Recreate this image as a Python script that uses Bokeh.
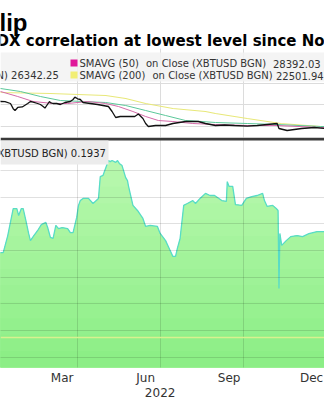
import numpy as np
import pandas as pd
from bokeh.plotting import figure
from bokeh.layouts import column
from bokeh.models import Range1d, FixedTicker, Label, BoxAnnotation, Span, LinearAxis
from bokeh.embed import file_html
from bokeh.resources import INLINE

# ---------------- data ----------------
title_text = "lip"
subtitle_text = "DX correlation at lowest level since No"

legend_row1 = ["SMAVG (50)", "on Close (XBTUSD BGN)", "28392.03"]
legend_row2_left = "N) 26342.25"
legend_row2 = ["SMAVG (200)", "on Close (XBTUSD BGN)", "22501.94"]
corr_legend = "XBTUSD BGN) 0.1937"

price_dates = ["2022-01-03", "2022-01-06", "2022-01-11", "2022-01-17", "2022-01-20", "2022-01-22",
               "2022-01-25", "2022-01-30", "2022-02-05", "2022-02-08", "2022-02-11", "2022-02-16",
               "2022-02-19", "2022-02-22", "2022-02-24", "2022-03-01", "2022-03-02", "2022-03-05",
               "2022-03-09", "2022-03-13", "2022-03-18", "2022-03-24", "2022-03-27", "2022-03-29",
               "2022-04-01", "2022-04-04", "2022-04-07", "2022-04-15", "2022-04-23", "2022-04-29",
               "2022-05-05", "2022-05-09", "2022-05-13", "2022-05-18", "2022-05-27", "2022-06-03",
               "2022-06-07", "2022-06-12", "2022-06-15", "2022-06-18", "2022-06-26", "2022-07-07",
               "2022-07-15", "2022-07-29", "2022-08-12", "2022-08-20", "2022-08-31", "2022-09-10",
               "2022-09-21", "2022-10-05", "2022-10-16", "2022-11-07", "2022-11-09", "2022-11-18",
               "2022-12-04", "2022-12-18", "2022-12-29", "2023-01-04"]
price_values = [44000, 43000, 42800, 41160, 36400, 34700,
                37500, 38000, 41160, 43000, 42500, 41160,
                40240, 38400, 37000, 43000, 42000, 41160,
                41160, 40240, 42080, 43000, 44840, 47000,
                45500, 44840, 42080, 41160, 40240, 39320,
                38400, 33800, 28280, 29200, 29200, 29200,
                31500, 27360, 22760, 20000, 20920, 20920,
                22760, 24600, 24600, 22760, 20920, 21400,
                20920, 20400, 20920, 22760, 18160, 16320,
                18160, 19080, 18160, 18160]

sma50_dates = ["2022-01-03", "2022-01-06", "2022-01-25", "2022-02-11", "2022-03-05", "2022-03-21",
               "2022-04-12", "2022-05-02", "2022-05-16", "2022-06-01", "2022-06-15", "2022-06-29",
               "2022-07-15", "2022-08-06", "2022-08-31", "2022-10-05", "2022-11-07", "2022-12-25",
               "2023-01-04"]
sma50_values = [53000, 52200, 47600, 43000, 41160, 41160,
                43000, 41160, 38400, 33800, 29200, 25520,
                24600, 22760, 21840, 20920, 20920, 19080,
                19080]

sma100_dates = ["2022-01-03", "2022-01-06", "2022-01-28", "2022-02-19", "2022-03-13", "2022-04-07",
                "2022-05-02", "2022-05-24", "2022-06-15", "2022-07-07", "2022-07-29", "2022-08-16",
                "2022-08-31", "2022-10-05", "2022-11-07", "2022-12-25", "2023-01-04"]
sma100_values = [55500, 54960, 52200, 47600, 43920, 43000,
                 42080, 39320, 34720, 30120, 25520, 24600,
                 23680, 22760, 21840, 20000, 20000]

sma200_dates = ["2022-01-03", "2022-01-06", "2022-03-02", "2022-05-02", "2022-05-24", "2022-06-15",
                "2022-07-15", "2022-08-20", "2022-08-31", "2022-10-05", "2022-11-11", "2022-12-25",
                "2023-01-04"]
sma200_values = [51400, 51280, 50360, 48520, 45760, 41160,
                 36560, 33800, 31960, 27360, 22760, 20000,
                 19500]

corr_dates = ["2022-01-01", "2022-01-06", "2022-01-09", "2022-01-14", "2022-01-20", "2022-01-24",
              "2022-01-26", "2022-01-29", "2022-01-31", "2022-02-03", "2022-02-06", "2022-02-08",
              "2022-02-11", "2022-02-16", "2022-02-20", "2022-02-25", "2022-02-27", "2022-03-02",
              "2022-03-05", "2022-03-08", "2022-03-11", "2022-03-15", "2022-03-21", "2022-03-24",
              "2022-03-27", "2022-03-31", "2022-04-02", "2022-04-04", "2022-04-07", "2022-04-13",
              "2022-04-18", "2022-04-24", "2022-04-26", "2022-04-29", "2022-05-05", "2022-05-07",
              "2022-05-09", "2022-05-13", "2022-05-15", "2022-05-17", "2022-05-20", "2022-05-24",
              "2022-05-26", "2022-05-27", "2022-06-01", "2022-06-06", "2022-06-12", "2022-06-15",
              "2022-06-20", "2022-06-28", "2022-07-01", "2022-07-07", "2022-07-12", "2022-07-15",
              "2022-07-18", "2022-07-20", "2022-07-23", "2022-07-27", "2022-07-31", "2022-08-06",
              "2022-08-09", "2022-08-14", "2022-08-20", "2022-08-25", "2022-08-30", "2022-09-07",
              "2022-09-12", "2022-09-13", "2022-09-15", "2022-09-19", "2022-09-22", "2022-09-29",
              "2022-10-04", "2022-10-10", "2022-10-16", "2022-10-22", "2022-10-24", "2022-10-27",
              "2022-11-02", "2022-11-06", "2022-11-08", "2022-11-09", "2022-11-10", "2022-11-12",
              "2022-11-17", "2022-11-22", "2022-11-29", "2022-12-05", "2022-12-12", "2022-12-21",
              "2022-12-29", "2023-01-04"]
corr_values = [0.292, 0.292, 0.292, 0.356, 0.457, 0.457,
               0.431, 0.457, 0.457, 0.412, 0.364, 0.337,
               0.352, 0.375, 0.397, 0.405, 0.386, 0.349,
               0.345, 0.394, 0.382, 0.386, 0.382, 0.367,
               0.367, 0.424, 0.469, 0.487, 0.495, 0.495,
               0.476, 0.495, 0.577, 0.581, 0.637, 0.633,
               0.637, 0.630, 0.637, 0.626, 0.618, 0.573,
               0.562, 0.543, 0.469, 0.450, 0.420, 0.390,
               0.394, 0.390, 0.364, 0.337, 0.300, 0.278,
               0.278, 0.308, 0.345, 0.469, 0.476, 0.487,
               0.476, 0.495, 0.514, 0.506, 0.506, 0.487,
               0.484, 0.558, 0.540, 0.540, 0.472, 0.469,
               0.495, 0.502, 0.506, 0.514, 0.487, 0.465,
               0.469, 0.457, 0.450, 0.158, 0.364, 0.319,
               0.337, 0.352, 0.356, 0.352, 0.363, 0.371,
               0.371, 0.371]

month_tick_dates = ["2022-03-15", "2022-06-15", "2022-09-15", "2022-12-15"]
month_tick_labels = ["Mar", "Jun", "Sep", "Dec"]
year_tick_date = "2022-07-01"
year_tick_label = "2022"
quarter_grid_dates = ["2022-04-01", "2022-07-01", "2022-10-01"]
price_grid = [20000, 40000, 60000]
corr_grid = [-0.1, 0.0, 0.1, 0.2, 0.3, 0.4, 0.5, 0.6]
corr_ref_level = -0.026

x_start = "2022-01-06"
x_span_days = 357.2
price_range = (9880, 91760)
corr_range = (-0.1382, 0.7232)
separator_level = 0.712


def ms(d):
    return pd.Timestamp(d).value // 10**6


W = 324
FONT = "DejaVu Sans"

x0 = pd.Timestamp(x_start)
x_range = Range1d(start=x0, end=x0 + pd.Timedelta(days=x_span_days))

# ---------------- header ----------------
head = figure(width=W, height=48, x_range=Range1d(0, W), y_range=Range1d(48, 0),
              toolbar_location=None, output_backend="svg", min_border=0,
              outline_line_color=None)
head.axis.visible = False
head.grid.visible = False
head.add_layout(Label(x=-1, y=22, text=title_text, text_font="Liberation Sans",
                      text_font_style="bold", text_font_size="24px", text_color="#000000",
                      text_baseline="alphabetic"))
head.add_layout(Label(x=-4, y=40, text=subtitle_text, text_font="DejaVu Sans",
                      text_font_style="bold", text_font_size="15px", text_color="#000000",
                      text_baseline="alphabetic"))

# ---------------- top price panel ----------------
top = figure(width=W, height=89, x_range=x_range, y_range=Range1d(*price_range),
             x_axis_type="datetime", toolbar_location=None, output_backend="svg",
             min_border=0, outline_line_color=None)
top.xaxis.visible = False
top.yaxis.visible = False
top.xgrid.ticker = FixedTicker(ticks=[ms(d) for d in quarter_grid_dates])
top.ygrid.ticker = FixedTicker(ticks=price_grid)
top.grid.grid_line_color = "#dcdcdc"

top.line(pd.to_datetime(sma200_dates), sma200_values, line_color="#e8e87a", line_width=1.2)
top.line(pd.to_datetime(sma100_dates), sma100_values, line_color="#5cc89a", line_width=1.0)
top.line(pd.to_datetime(sma50_dates), sma50_values, line_color="#d46aa8", line_width=1.0)
top.line(pd.to_datetime(price_dates), price_values, line_color="#111111", line_width=1.3)

# legend (screen units relative to frame bottom-left)
top.add_layout(BoxAnnotation(left=0, right=W, bottom=56, top=85, left_units="screen",
                             right_units="screen", bottom_units="screen", top_units="screen",
                             fill_color="#f2f2f2", fill_alpha=0.85, line_alpha=0))
top.add_layout(BoxAnnotation(left=70, right=77, bottom=71, top=78, left_units="screen",
                             right_units="screen", bottom_units="screen", top_units="screen",
                             fill_color="#e0189a", fill_alpha=1, line_alpha=0))
top.add_layout(BoxAnnotation(left=70, right=77, bottom=59, top=66, left_units="screen",
                             right_units="screen", bottom_units="screen", top_units="screen",
                             fill_color="#f2ee74", fill_alpha=1, line_alpha=0))
legend_items = [(79, 74, legend_row1[0]), (145.5, 74, legend_row1[1]), (272.5, 74, legend_row1[2]),
                (-4, 62, legend_row2_left),
                (79, 62, legend_row2[0]), (152, 62, legend_row2[1]), (275.5, 62, legend_row2[2])]
for (lx, ly, txt) in legend_items:
    top.add_layout(Label(x=lx, y=ly, x_units="screen", y_units="screen", text=txt,
                         text_font=FONT, text_font_size="10px", text_color="#333333",
                         text_baseline="middle"))

# ---------------- bottom correlation panel ----------------
bot = figure(width=W, height=263, x_range=x_range, y_range=Range1d(*corr_range),
             x_axis_type="datetime", toolbar_location=None, output_backend="svg",
             min_border=0, min_border_bottom=33, outline_line_color=None)
bot.yaxis.visible = False

cx = pd.to_datetime(corr_dates)
cv = np.array(corr_values)
n_bands = 14
levels = np.linspace(corr_range[0], corr_range[1], n_bands + 1)
c_bot = np.array([140, 238, 134])
c_top = np.array([188, 249, 178])
for k in range(n_bands - 1, -1, -1):
    t = k / (n_bands - 1)
    col = c_bot + (c_top - c_bot) * t
    hexcol = "#%02x%02x%02x" % tuple(int(round(c)) for c in col)
    bot.varea(x=cx, y1=np.full(len(cv), corr_range[0]), y2=np.minimum(cv, levels[k + 1]),
              fill_color=hexcol, fill_alpha=1)
bot.line(cx, cv, line_color="#58dcc6", line_width=1.3)

bot.add_layout(Span(location=corr_ref_level, dimension="width", line_color="#d8f090",
                    line_width=1.5))

bot.xgrid.ticker = FixedTicker(ticks=[ms(d) for d in quarter_grid_dates])
bot.ygrid.ticker = FixedTicker(ticks=corr_grid)
bot.grid.grid_line_color = "#000000"
bot.grid.grid_line_alpha = 0.12
bot.grid.level = "annotation"

bot.add_layout(BoxAnnotation(bottom=separator_level, fill_color="#3a3a3a", fill_alpha=1,
                             line_alpha=0))
bot.add_layout(BoxAnnotation(left=0, right=108, bottom=203, top=227, left_units="screen",
                             right_units="screen", bottom_units="screen", top_units="screen",
                             fill_color="#ececec", fill_alpha=1, line_alpha=0))
bot.add_layout(Label(x=-3, y=214, x_units="screen", y_units="screen", text=corr_legend,
                     text_font=FONT, text_font_size="10px", text_color="#222222",
                     text_baseline="middle"))

ax = bot.xaxis[0]
ax.ticker = FixedTicker(ticks=[ms(d) for d in month_tick_dates])
ax.major_label_overrides = {ms(d): lab for d, lab in zip(month_tick_dates, month_tick_labels)}

yax = LinearAxis(ticker=FixedTicker(ticks=[ms(year_tick_date)]),
                 major_label_overrides={ms(year_tick_date): year_tick_label})
bot.add_layout(yax, "below")

for a, so in [(ax, 3), (yax, 0)]:
    a.axis_line_color = None
    a.major_tick_line_color = None
    a.minor_tick_line_color = None
    a.major_tick_out = 0
    a.major_tick_in = 0
    a.minor_tick_out = 0
    a.minor_tick_in = 0
    a.major_label_standoff = so
    a.major_label_text_font = FONT
    a.major_label_text_font_size = "12px"
    a.major_label_text_color = "#333333"

layout = column(head, top, bot, spacing=0)
open("out.html", "w").write(file_html(layout, INLINE))
